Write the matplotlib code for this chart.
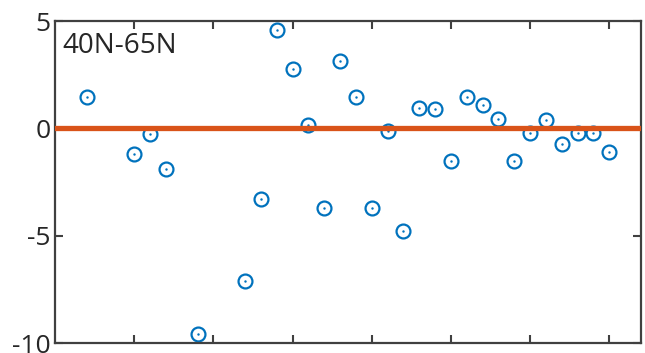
import numpy as np
import matplotlib
matplotlib.use("Agg")
import matplotlib.pyplot as plt

# anomaly values per year (gaps = missing years)
years = [1982, 1985, 1986, 1987, 1989, 1992, 1993, 1994, 1995, 1996,
         1997, 1998, 1999, 2000, 2001, 2002, 2003, 2004, 2005, 2006,
         2007, 2008, 2009, 2010, 2011, 2012, 2013, 2014, 2015]
values = [1.45, -1.2, -0.26, -1.9, -9.56, -7.09, -3.3, 4.58, 2.78, 0.16,
          -3.71, 3.14, 1.48, -3.71, -0.12, -4.77, 0.94, 0.89, -1.53, 1.48,
          1.09, 0.44, -1.54, -0.22, 0.40, -0.72, -0.22, -0.22, -1.09]
xticks = [1985, 1990, 1995, 2000, 2005, 2010, 2015]
yticks = [-10, -5, 0, 5]
label = "40N-65N"

blue = "#0072BD"
orange = "#D95319"
axcol = "#404040"

plt.rcParams['font.family'] = ['Open Sans', 'DejaVu Sans']
plt.rcParams['axes.unicode_minus'] = False

fig = plt.figure(figsize=(6.45, 3.53), dpi=100)
ax = fig.add_axes([0.0853, 0.0283, 0.9085, 0.9122])

# open circles with a small dot in the middle
ax.plot(years, values, linestyle="none", marker="o", markersize=10,
        markerfacecolor="none", markeredgecolor=blue, markeredgewidth=1.6, zorder=2)
ax.plot(years, values, linestyle="none", marker=".", markersize=1.5,
        color=blue, zorder=2)
ax.axhline(0, color=orange, linewidth=3.8, zorder=3)

ax.set_xlim(1980, 2017)
ax.set_ylim(-10, 5)
ax.set_xticks(xticks)
ax.set_xticklabels([])
ax.set_yticks(yticks)
ax.tick_params(direction="in", length=6, width=1.5, color=axcol,
               top=True, right=True, labelsize=19, labelcolor="#262626", pad=3)
for s in ax.spines.values():
    s.set_color(axcol)
    s.set_linewidth(1.6)

ax.text(0.012, 0.965, label, transform=ax.transAxes, fontsize=20,
        color="#262626", va="top", ha="left")

fig.savefig("out.png", dpi=100)
